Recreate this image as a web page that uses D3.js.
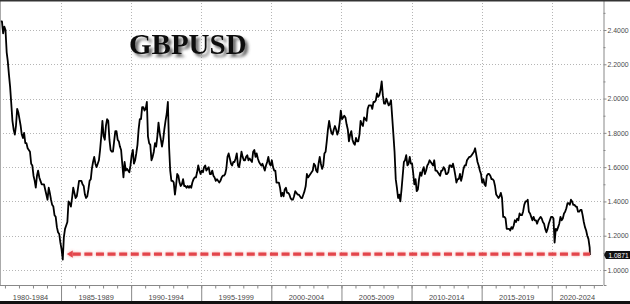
<!DOCTYPE html>
<html>
<head>
<meta charset="utf-8">
<script src="https://cdn.jsdelivr.net/npm/d3@7"></script>
<style>
    body { margin: 0; background: #fff; }
    svg { display: block; }
    .axis text { font-family: "Liberation Sans", Arial, sans-serif; font-size: 7.4px; fill: #4a4a4a; }
    .y-axis text { font-size: 6.9px; }
    .axis path, .axis line { stroke: #888; }
</style>
</head>
<body>
<div id="chart-area"></div>
<script>
/*
 *    GBPUSD since 1980 - monthly levels
 */

var title = "GBPUSD";

var years = [1980, 1981, 1982, 1983, 1984, 1985, 1986, 1987, 1988, 1989,
    1990, 1991, 1992, 1993, 1994, 1995, 1996, 1997, 1998, 1999,
    2000, 2001, 2002, 2003, 2004, 2005, 2006, 2007, 2008, 2009,
    2010, 2011, 2012, 2013, 2014, 2015, 2016, 2017, 2018, 2019,
    2020, 2021, 2022];

// one row per year, Jan..Dec
var rates = [
    [null, null, null, null, null, null, null, null, 2.45, 2.45, 2.38, 2.42],
    [2.40, 2.27, 2.22, 2.14, 2.07, 1.97, 1.87, 1.82, 1.79, 1.84, 1.94, 1.92],
    [1.88, 1.84, 1.79, 1.77, 1.80, 1.74, 1.74, 1.71, 1.70, 1.69, 1.62, 1.61],
    [1.55, 1.52, 1.48, 1.55, 1.58, 1.54, 1.52, 1.50, 1.50, 1.50, 1.47, 1.44],
    [1.41, 1.48, 1.45, 1.41, 1.38, 1.37, 1.32, 1.31, 1.25, 1.22, 1.21, 1.16],
    [1.12, 1.06, 1.19, 1.24, 1.26, 1.28, 1.40, 1.39, 1.37, 1.42, 1.48, 1.45],
    [1.42, 1.43, 1.47, 1.52, 1.52, 1.52, 1.50, 1.49, 1.44, 1.42, 1.43, 1.47],
    [1.52, 1.53, 1.59, 1.63, 1.66, 1.62, 1.60, 1.62, 1.64, 1.70, 1.78, 1.87],
    [1.78, 1.76, 1.84, 1.88, 1.87, 1.76, 1.70, 1.69, 1.69, 1.75, 1.81, 1.81],
    [1.76, 1.75, 1.72, 1.70, 1.62, 1.54, 1.63, 1.58, 1.59, 1.58, 1.57, 1.61],
    [1.67, 1.70, 1.62, 1.64, 1.68, 1.73, 1.82, 1.88, 1.88, 1.95, 1.95, 1.93],
    [1.94, 1.98, 1.78, 1.74, 1.73, 1.64, 1.66, 1.69, 1.74, 1.72, 1.78, 1.86],
    [1.80, 1.76, 1.72, 1.76, 1.82, 1.87, 1.91, 1.98, 1.72, 1.58, 1.52, 1.52],
    [1.51, 1.44, 1.49, 1.56, 1.55, 1.51, 1.49, 1.50, 1.53, 1.49, 1.49, 1.48],
    [1.49, 1.48, 1.49, 1.48, 1.51, 1.53, 1.54, 1.54, 1.57, 1.61, 1.58, 1.56],
    [1.58, 1.57, 1.60, 1.61, 1.58, 1.59, 1.60, 1.56, 1.56, 1.58, 1.55, 1.54],
    [1.52, 1.53, 1.52, 1.51, 1.52, 1.54, 1.55, 1.55, 1.56, 1.59, 1.66, 1.68],
    [1.65, 1.62, 1.61, 1.63, 1.63, 1.65, 1.68, 1.61, 1.60, 1.64, 1.69, 1.66],
    [1.64, 1.64, 1.66, 1.67, 1.64, 1.65, 1.64, 1.63, 1.69, 1.70, 1.66, 1.68],
    [1.65, 1.63, 1.62, 1.61, 1.62, 1.60, 1.58, 1.61, 1.63, 1.66, 1.62, 1.61],
    [1.64, 1.60, 1.58, 1.58, 1.51, 1.51, 1.51, 1.48, 1.43, 1.45, 1.43, 1.47],
    [1.48, 1.45, 1.45, 1.44, 1.42, 1.41, 1.41, 1.43, 1.46, 1.45, 1.44, 1.44],
    [1.43, 1.42, 1.42, 1.44, 1.46, 1.49, 1.56, 1.54, 1.55, 1.56, 1.57, 1.58],
    [1.62, 1.61, 1.58, 1.57, 1.62, 1.66, 1.62, 1.59, 1.61, 1.68, 1.69, 1.75],
    [1.82, 1.87, 1.83, 1.80, 1.79, 1.82, 1.84, 1.82, 1.79, 1.81, 1.86, 1.93],
    [1.88, 1.89, 1.90, 1.89, 1.85, 1.82, 1.75, 1.79, 1.81, 1.76, 1.74, 1.73],
    [1.77, 1.75, 1.75, 1.79, 1.87, 1.85, 1.84, 1.89, 1.88, 1.87, 1.94, 1.96],
    [1.96, 1.96, 1.94, 1.98, 1.98, 1.99, 2.03, 2.01, 2.02, 2.05, 2.10, 2.02],
    [1.97, 1.97, 2.00, 1.98, 1.96, 1.97, 1.99, 1.89, 1.79, 1.69, 1.53, 1.48],
    [1.42, 1.44, 1.40, 1.47, 1.55, 1.63, 1.64, 1.67, 1.61, 1.62, 1.66, 1.62],
    [1.62, 1.56, 1.50, 1.53, 1.46, 1.47, 1.53, 1.57, 1.55, 1.58, 1.60, 1.56],
    [1.58, 1.61, 1.62, 1.64, 1.63, 1.62, 1.61, 1.64, 1.58, 1.58, 1.57, 1.56],
    [1.55, 1.58, 1.58, 1.60, 1.59, 1.56, 1.56, 1.57, 1.61, 1.61, 1.60, 1.62],
    [1.59, 1.55, 1.51, 1.53, 1.53, 1.56, 1.52, 1.55, 1.59, 1.61, 1.61, 1.64],
    [1.65, 1.66, 1.66, 1.67, 1.68, 1.69, 1.71, 1.67, 1.63, 1.61, 1.58, 1.56],
    [1.51, 1.53, 1.50, 1.49, 1.55, 1.56, 1.56, 1.55, 1.53, 1.53, 1.52, 1.49],
    [1.44, 1.43, 1.42, 1.43, 1.45, 1.42, 1.31, 1.31, 1.30, 1.24, 1.24, 1.24],
    [1.23, 1.25, 1.24, 1.26, 1.29, 1.28, 1.30, 1.29, 1.33, 1.32, 1.32, 1.34],
    [1.38, 1.40, 1.40, 1.41, 1.34, 1.33, 1.31, 1.29, 1.31, 1.29, 1.29, 1.27],
    [1.29, 1.30, 1.31, 1.30, 1.28, 1.27, 1.24, 1.22, 1.24, 1.27, 1.29, 1.31],
    [1.31, 1.30, 1.16, 1.24, 1.23, 1.25, 1.27, 1.31, 1.29, 1.30, 1.33, 1.34],
    [1.36, 1.39, 1.39, 1.38, 1.41, 1.40, 1.38, 1.38, 1.37, 1.37, 1.34, 1.34],
    [1.35, 1.35, 1.32, 1.28, 1.25, 1.23, 1.20, 1.18, 1.13, null, null, null]
];

var lastDate = "2022-09-23";
var lastValue = 1.0871;

var yTicks = [1.0, 1.2, 1.4, 1.6, 1.8, 2.0, 2.2, 2.4];
var yMinorTicks = [1.1, 1.3, 1.5, 1.7, 1.9, 2.1, 2.3, 2.5];

var periodStarts = [1980, 1985, 1990, 1995, 2000, 2005, 2010, 2015, 2020];
var periodLabels = ["1980-1984", "1985-1989", "1990-1994", "1995-1999", "2000-2004",
    "2005-2009", "2010-2014", "2015-2019", "2020-2024"];

var width = 630,
    height = 304,
    plotW = 603,
    plotH = 285;

var svg = d3.select("#chart-area")
    .append("svg")
    .attr("width", width)
    .attr("height", height);

var defs = svg.append("defs");

// soft shadow for the title
var shadow = defs.append("filter").attr("id", "shadow")
    .attr("x", "-10%").attr("y", "-20%").attr("width", "130%").attr("height", "160%");
shadow.append("feDropShadow")
    .attr("dx", 3).attr("dy", 3)
    .attr("stdDeviation", 1.6)
    .attr("flood-color", "#444")
    .attr("flood-opacity", 0.8);

// glow round the red arrow
var glow = defs.append("filter").attr("id", "glow")
    .attr("x", "-5%").attr("y", "-200%").attr("width", "110%").attr("height", "500%");
glow.append("feGaussianBlur").attr("stdDeviation", 1.6);

defs.append("clipPath").attr("id", "plot-clip")
    .append("rect")
    .attr("width", plotW)
    .attr("height", plotH);

// flatten rows into dated points
var data = [];
years.forEach(function (yr, i) {
    rates[i].forEach(function (v, m) {
        if (v !== null) {
            data.push({ date: new Date(yr, m, 15), value: v });
        }
    });
});
data.push({ date: d3.timeParse("%Y-%m-%d")(lastDate), value: lastValue });

var x = d3.scaleTime()
    .domain([new Date(1980, 7, 25), new Date(2023, 7, 28)])
    .range([0, plotW]);

var y = d3.scaleLinear()
    .domain([0.9125, 2.575])
    .range([plotH, 0]);

// gridlines
svg.append("g")
    .selectAll("line")
    .data(yTicks)
    .enter()
    .append("line")
    .attr("x1", 0)
    .attr("x2", plotW)
    .attr("y1", function (d) { return Math.round(y(d)) + 0.5; })
    .attr("y2", function (d) { return Math.round(y(d)) + 0.5; })
    .attr("stroke", "#b5b5b5")
    .attr("stroke-dasharray", "1,2");

svg.append("g")
    .selectAll("line")
    .data(periodStarts.slice(1))
    .enter()
    .append("line")
    .attr("x1", function (d) { return Math.round(x(new Date(d, 0, 1))) + 0.5; })
    .attr("x2", function (d) { return Math.round(x(new Date(d, 0, 1))) + 0.5; })
    .attr("y1", 0)
    .attr("y2", plotH)
    .attr("stroke", "#b5b5b5")
    .attr("stroke-dasharray", "1,2");

// left edge
svg.append("line")
    .attr("x1", 0.5).attr("x2", 0.5)
    .attr("y1", 0).attr("y2", plotH)
    .attr("stroke", "#aaa");

// price line
var line = d3.line()
    .x(function (d) { return x(d.date); })
    .y(function (d) { return y(d.value); });

svg.append("path")
    .datum(data)
    .attr("clip-path", "url(#plot-clip)")
    .attr("fill", "none")
    .attr("stroke", "#000")
    .attr("stroke-width", 1.8)
    .attr("stroke-linejoin", "round")
    .attr("d", line);

// red dashed arrow from today's level back to the 1985 low
var low = d3.least(data, function (d) { return d.value; });
var ay = y(lastValue) - 1;
var ax0 = x(low.date) + 4,
    ax1 = x(data[data.length - 1].date);

var arrow = svg.append("g");
[["#f08a8a", 0.8, "url(#glow)"], ["#e3454b", 1, null]].forEach(function (s) {
    var g = arrow.append("g")
        .attr("opacity", s[1])
        .attr("filter", s[2]);
    g.append("line")
        .attr("x1", ax0 + 6).attr("x2", ax1)
        .attr("y1", ay).attr("y2", ay)
        .attr("stroke", s[0])
        .attr("stroke-width", 3.2)
        .attr("stroke-dasharray", "8,3.6");
    g.append("path")
        .attr("d", "M" + ax0 + "," + ay + "L" + (ax0 + 6) + "," + (ay - 3.6) +
            "L" + (ax0 + 6) + "," + (ay + 3.6) + "Z")
        .attr("fill", s[0]);
});

// right axis
var yAxisCall = d3.axisRight(y)
    .tickValues(yTicks)
    .tickSize(3)
    .tickPadding(1)
    .tickFormat(d3.format(".4f"));
svg.append("g")
    .attr("class", "axis y-axis")
    .attr("transform", "translate(" + (plotW + 0.5) + ",0)")
    .call(yAxisCall);

svg.append("g")
    .attr("class", "axis")
    .attr("transform", "translate(" + (plotW + 0.5) + ",0)")
    .call(d3.axisRight(y).tickValues(yMinorTicks).tickSize(2).tickFormat(""))
    .select(".domain").remove();

// bottom axis: yearly minor ticks, long ticks between periods
svg.append("g")
    .attr("class", "axis")
    .attr("transform", "translate(0," + (plotH + 0.5) + ")")
    .call(d3.axisBottom(x).ticks(d3.timeYear.every(1)).tickSize(3).tickFormat(""))
    .select(".domain")
    .attr("d", "M0,0H" + plotW);

svg.append("g")
    .attr("class", "axis")
    .attr("transform", "translate(0," + (plotH + 0.5) + ")")
    .call(d3.axisBottom(x)
        .tickValues(periodStarts.slice(1).map(function (d) { return new Date(d, 0, 1); }))
        .tickSize(16)
        .tickFormat(""))
    .select(".domain").remove();

svg.append("g")
    .attr("class", "axis")
    .selectAll("text")
    .data(periodStarts)
    .enter()
    .append("text")
    .attr("x", function (d) {
        var a = Math.max(0, x(new Date(d, 0, 1))),
            b = Math.min(plotW, x(new Date(d + 5, 0, 1)));
        return (a + b) / 2;
    })
    .attr("y", 300)
    .attr("text-anchor", "middle")
    .text(function (d, i) { return periodLabels[i]; });

// last value tag
var ty = y(lastValue);
svg.append("path")
    .attr("d", "M" + (plotW + 1) + "," + ty + "L" + (plotW + 3) + "," + (ty - 4) +
        "H" + width + "V" + (ty + 4) + "H" + (plotW + 3) + "Z")
    .attr("fill", "#111");
svg.append("text")
    .attr("x", plotW + 15.5)
    .attr("y", ty + 2.5)
    .attr("text-anchor", "middle")
    .attr("font-family", "Liberation Sans, Arial, sans-serif")
    .attr("font-size", "6.6px")
    .attr("fill", "#fff")
    .text(d3.format(".4f")(lastValue));

// frame bits
svg.append("rect")
    .attr("width", width).attr("height", 1.5)
    .attr("fill", "#333");
svg.append("rect")
    .attr("y", 301).attr("width", width).attr("height", 3)
    .attr("fill", "#111");

// title
svg.append("text")
    .attr("x", 129)
    .attr("y", 54)
    .attr("font-family", "Liberation Serif, Times New Roman, serif")
    .attr("font-weight", "bold")
    .attr("font-size", "29px")
    .attr("fill", "#111")
    .attr("filter", "url(#shadow)")
    .text(title);
</script>
</body>
</html>
